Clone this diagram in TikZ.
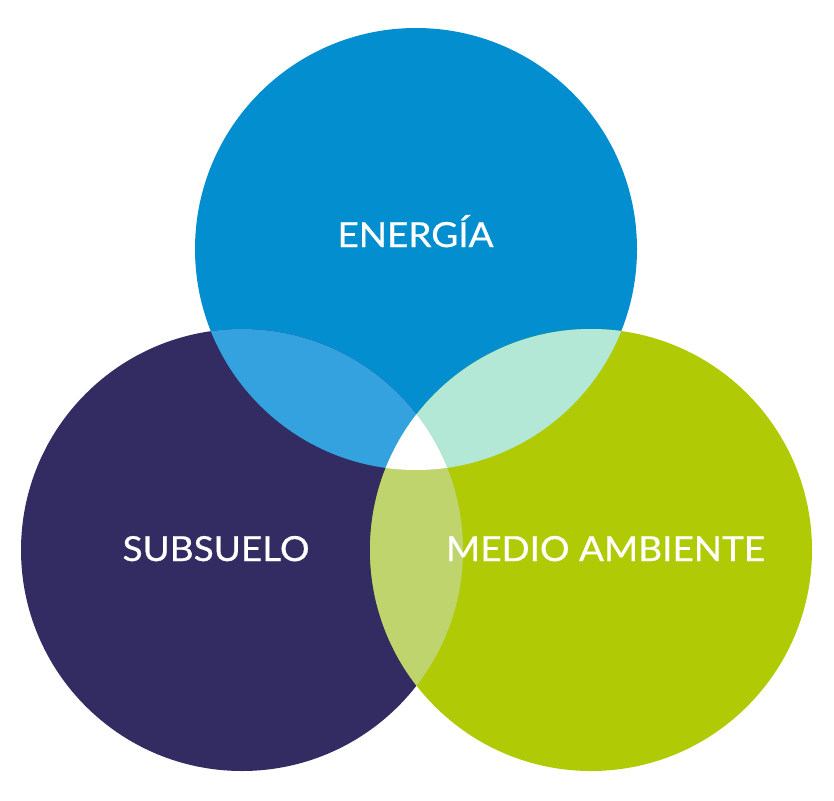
\documentclass[tikz,border=0pt]{standalone}
\usepackage{fontspec}
\setmainfont{Lato}[FakeStretch=1.07, FakeBold=0.6]
\usetikzlibrary{positioning}

\definecolor{energia}{RGB}{3,143,207}
\definecolor{subsuelo}{RGB}{50,44,98}
\definecolor{ambiente}{RGB}{176,203,6}
\definecolor{energiasub}{RGB}{53,162,224}
\definecolor{energiaamb}{RGB}{178,232,213}
\definecolor{subamb}{RGB}{192,212,110}

\begin{document}
\begin{tikzpicture}[x=1pt, y=-1pt,
    label/.style={text=white, font=\fontsize{34.5}{40}\selectfont, anchor=base}]

\useasboundingbox (0,0) rectangle (834,800);

\coordinate (top) at (416,249);
\coordinate (left) at (242,550);
\coordinate (right) at (591,550);

\fill[energia] (top) circle (221);
\fill[subsuelo] (left) circle (221);
\fill[ambiente] (right) circle (221);

\begin{scope}
  \clip (top) circle (221);
  \fill[energiasub] (left) circle (221);
  \fill[energiaamb] (right) circle (221);
\end{scope}
\begin{scope}
  \clip (left) circle (221);
  \fill[subamb] (right) circle (221);
  \clip (right) circle (221);
  \fill[white] (top) circle (221);
\end{scope}

\node[label] (energy) at (415.5,247) {ENERGÍA};
\node[label] (ground) at (216,561) {SUBSUELO};
\node[label] (environment) at (605.5,561) {MEDIO AMBIENTE};

\end{tikzpicture}
\end{document}
